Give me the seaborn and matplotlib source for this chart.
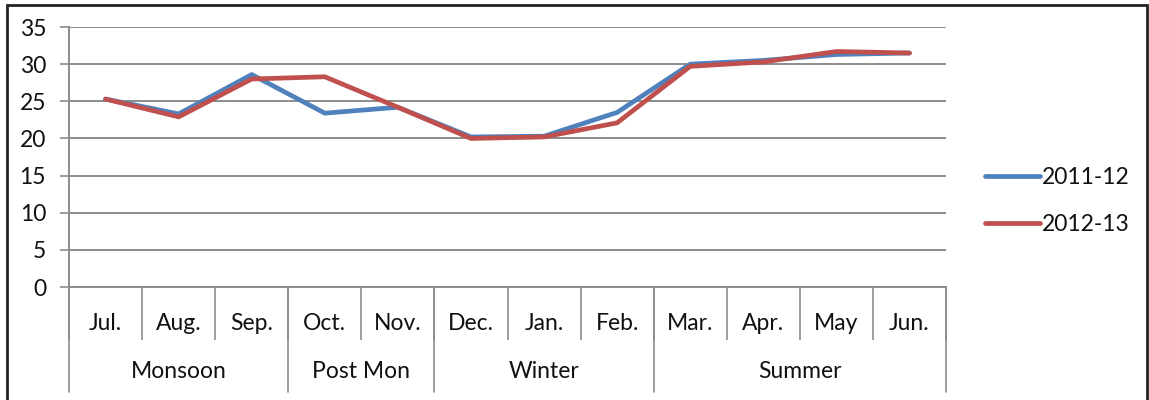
import numpy as np
import pandas as pd
import matplotlib
matplotlib.use("Agg")
import matplotlib.pyplot as plt
import seaborn as sns
from matplotlib.patches import Rectangle

months = ["Jul.", "Aug.", "Sep.", "Oct.", "Nov.", "Dec.", "Jan.", "Feb.", "Mar.", "Apr.", "May", "Jun."]
seasons = ["Monsoon", "Post Mon", "Winter", "Summer"]
season_sizes = [3, 2, 3, 4]
series_2011 = [25.3, 23.3, 28.6, 23.4, 24.2, 20.2, 20.3, 23.5, 30.0, 30.5, 31.3, 31.5]
series_2012 = [25.3, 22.9, 28.0, 28.3, 24.2, 20.0, 20.2, 22.1, 29.7, 30.3, 31.7, 31.5]
series_names = ["2011-12", "2012-13"]
yticks = [0, 5, 10, 15, 20, 25, 30, 35]

df = pd.DataFrame({
    "month": months * 2,
    "value": series_2011 + series_2012,
    "series": [series_names[0]] * 12 + [series_names[1]] * 12,
})

sns.set_theme(style="white")
plt.rcParams["font.family"] = ["Lato", "DejaVu Sans"]

FS = 16.5
TXT = "#111111"
W, H = 1149, 400
fig = plt.figure(figsize=(W / 100, H / 100), dpi=100)
x0, x1, yb, yt = 69, 946, 287, 27
ax = fig.add_axes([x0 / W, (H - yb) / H, (x1 - x0) / W, (yb - yt) / H])

grid_c = "#8c8c8c"
sns.lineplot(data=df, x="month", y="value", hue="series", sort=False,
             palette=["#4F81BD", "#C0504D"], linewidth=3.4, ax=ax, legend=True)

ax.set_xlim(-0.5, 11.5)
ax.set_ylim(0, 35)
ax.set_yticks(yticks)
ax.set_yticklabels([str(v) for v in yticks], fontsize=FS, color=TXT)
ax.yaxis.grid(True, color=grid_c, linewidth=1.4)
ax.set_axisbelow(True)
ax.tick_params(axis="y", direction="out", length=6.5, width=1.2, color=grid_c, pad=10, left=True)
for s in ["top", "right"]:
    ax.spines[s].set_visible(False)
for s in ["left", "bottom"]:
    ax.spines[s].set_color(grid_c)
    ax.spines[s].set_linewidth(1.4)
ax.set_xlabel("")
ax.set_ylabel("")

# month labels and separators
ax.set_xticks(range(12))
ax.set_xticklabels(months, fontsize=FS, color=TXT)
ax.tick_params(axis="x", which="major", length=0, pad=19, bottom=False)
ax.set_xticks(np.arange(-0.5, 12, 1), minor=True)
ax.tick_params(axis="x", which="minor", direction="out", length=38, width=1.2,
               color=grid_c, bottom=True)

# season labels and separators
trans = ax.get_xaxis_transform()
bounds = np.concatenate([[0], np.cumsum(season_sizes)]) - 0.5
for i, name in enumerate(seasons):
    c = (bounds[i] + bounds[i + 1]) / 2
    ax.text(c, -(372 - yb) / (yb - yt), name, transform=trans, ha="center", va="center",
            fontsize=FS, color=TXT, clip_on=False)
for b in bounds:
    ax.plot([b, b], [0, -(392 - yb) / (yb - yt)], transform=trans, color=grid_c,
            linewidth=1.2, clip_on=False)

leg = ax.legend(loc="center left", bbox_to_anchor=((985 - x0) / (x1 - x0), (yb - 201) / (yb - yt)),
                frameon=False, fontsize=FS, handlelength=2.4, handletextpad=0.1,
                labelspacing=1.15, borderaxespad=0, borderpad=0)
for line in leg.get_lines():
    line.set_linewidth(3.4)
for t in leg.get_texts():
    t.set_color(TXT)

fig.patches.append(Rectangle((7 / W, -0.05), (1147 - 7) / W, (H - 5) / H + 0.05,
                             transform=fig.transFigure, fill=False, edgecolor="#222222",
                             linewidth=2, zorder=10))

fig.savefig("out.png", dpi=100)
